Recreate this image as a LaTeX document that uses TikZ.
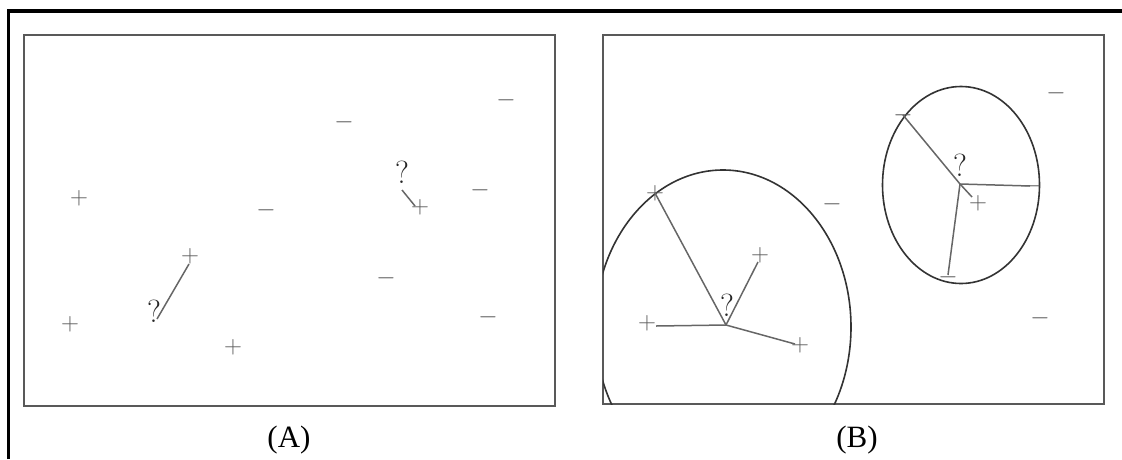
\documentclass[tikz,border=0pt]{standalone}
\usepackage{fontspec}
\usetikzlibrary{calc}
\newfontfamily\tnr{Liberation Serif}
\begin{document}
\begin{tikzpicture}[x=1pt,y=-1pt,
  sym/.style={inner sep=0pt,outer sep=0pt,text=black!65,font=\fontsize{30}{30}\selectfont},
  qm/.style={inner sep=0pt,outer sep=0pt,text=black!85,font=\fontsize{32}{32}\selectfont},
  panel/.style={draw=black!65,line width=2pt},
  link/.style={draw=black!60,line width=1.5pt},
  ring/.style={draw=black!80,line width=1.6pt},
  caption/.style={inner sep=0pt,font=\tnr\fontsize{31}{31}\selectfont}]
\useasboundingbox (0,0) rectangle (1122,459);
% outer frame (left and top)
\draw[line width=3.5pt] (8.5,459) -- (8.5,11) -- (1122,11);
% panels
\draw[panel] (24,35) rectangle (555,406);
\draw[panel] (603,35) rectangle (1104,404);
% ---------- panel A ----------
\node[sym] (ap1) at (79,198) {$+$};
\node[sym] (ap2) at (190,256) {$+$};
\node[sym] (ap3) at (70,324) {$+$};
\node[sym] (ap4) at (233,347) {$+$};
\node[sym] (ap5) at (420,207) {$+$};
\node[sym] (am1) at (344,122) {$-$};
\node[sym] (am2) at (506,100) {$-$};
\node[sym] (am3) at (480,190) {$-$};
\node[sym] (am4) at (266,210) {$-$};
\node[sym] (am5) at (386,278) {$-$};
\node[sym] (am6) at (488,317) {$-$};
\node[qm] (aq1) at (154,311) {?};
\node[qm] (aq2) at (402,172) {?};
\coordinate (aq1e) at (157,319);
\coordinate (ap2e) at (189,264);
\coordinate (aq2e) at (402,190);
\coordinate (ap5e) at (415,206);
\draw[link] (aq1e) -- (ap2e);
\draw[link] (aq2e) -- (ap5e);
\node[caption] (capA) at (289,440) {(A)};
% ---------- panel B ----------
\begin{scope}
\clip (603,35) rectangle (1104,404);
\draw[ring] (723,327) ellipse [x radius=128, y radius=157];
\end{scope}
\draw[ring] (961,185) ellipse [x radius=78.5, y radius=98.5];
\coordinate (bc1) at (726,325);
\coordinate (bc2) at (960,184);
\node[sym] (bp1) at (655,193) {$+$};
\node[sym] (bp2) at (760,255) {$+$};
\node[sym] (bp3) at (647,323) {$+$};
\node[sym] (bp4) at (800,345) {$+$};
\node[sym] (bp5) at (978,203) {$+$};
\node[sym] (bm1) at (832,204) {$-$};
\node[sym] (bm2) at (903,115) {$-$};
\node[sym] (bm3) at (1032,186) {$-$};
\node[sym] (bm4) at (948,277) {$-$};
\node[sym] (bm5) at (1056,93) {$-$};
\node[sym] (bm6) at (1040,318) {$-$};
\node[qm] (bq1) at (727,305) {?};
\node[qm] (bq2) at (960,165) {?};
\draw[link] (bc1) -- (bp1.center);
\draw[link] (bc1) -- ($(bp2.center)+(-2,7)$);
\draw[link] (bc1) -- ($(bp3.center)+(9,3)$);
\draw[link] (bc1) -- ($(bp4.center)+(-5,-1)$);
\draw[link] (bc2) -- (bm2.center);
\draw[link] (bc2) -- ($(bm3.center)+(-2,0)$);
\draw[link] (bc2) -- ($(bm4.center)+(0,-2)$);
\draw[link] (bc2) -- ($(bp5.center)+(-6,-6)$);
\node[caption] (capB) at (857,440) {(B)};
\end{tikzpicture}
\end{document}
